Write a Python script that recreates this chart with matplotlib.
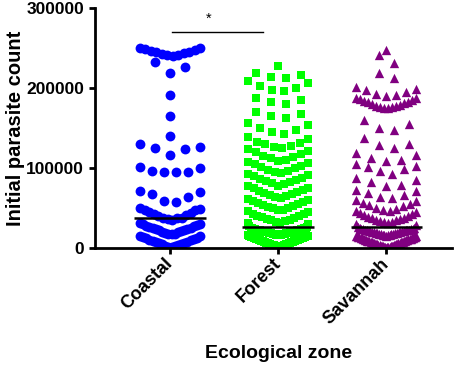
import matplotlib.pyplot as plt
import numpy as np

plt.rcParams['font.family'] = ['Liberation Sans', 'DejaVu Sans']
plt.rcParams['font.weight'] = 'bold'

zones = ['Coastal', 'Forest', 'Savannah']
colors = ['#0000ff', '#00ff00', '#800080']
markers = ['o', 's', '^']

# initial parasite counts (thousands)
coastal_k = [
    1.0, 1.5, 2.0, 3.0, 3.5, 4.5, 5.0, 6.0, 6.5, 7.5, 8.0, 9.0, 9.5, 10.5, 11.0, 12.0, 13.0, 13.5, 14.5, 15.5,
    17.0, 17.5, 18.0, 19.0, 19.5, 20.5, 21.0, 22.0, 22.5, 23.5, 24.0, 25.0, 25.5, 26.5, 27.5, 28.0, 29.0, 29.5, 30.5, 31.5,
    35.0, 36.0, 37.0, 37.5, 38.0, 39.5, 41.0, 42.5, 44.0, 45.5, 47.0, 48.0, 49.0, 49.5,
    57.0, 59.0, 64.0, 67.0, 70.0, 71.5,
    94.5, 95.0, 95.5, 96.0, 100.5, 101.5,
    116.0, 124.0, 125.0, 126.5, 130.5,
    140.0, 165.0, 191.0,
    219.0, 226.0, 232.0,
    240.5, 241.0, 241.5, 242.5, 243.5, 244.5, 245.5, 246.5, 247.5, 248.5, 249.5, 250.5,
]
forest_k = [
    1.0, 1.2, 1.5, 1.7, 2.0, 2.3, 2.5, 2.8, 3.0, 3.2, 3.5, 3.8, 4.0, 4.2, 4.5, 4.8, 5.0, 5.3, 5.5, 5.7,
    6.0, 6.2, 6.5, 6.8, 7.0, 7.3, 7.5, 7.8, 8.0, 8.2, 8.5, 8.8, 9.0, 9.3, 9.5, 9.8, 10.0, 10.3, 10.5, 10.8,
    11.0, 11.2, 11.5, 11.8, 12.0, 12.3, 12.5, 12.8, 13.0, 13.2, 13.5, 13.8, 14.0, 14.2, 14.5, 14.8, 15.0, 15.2, 15.5, 15.8,
    16.0, 16.2, 16.5, 16.6, 16.8, 17.0, 17.3, 17.4, 17.6, 17.8, 18.0, 18.3, 18.4, 18.6, 18.8, 19.0, 19.2, 19.5, 19.6, 19.8,
    20.0, 20.2, 20.4, 20.7, 20.8, 21.0, 21.2, 21.4, 21.6, 21.9, 22.1, 22.3, 22.5, 22.7, 22.9, 23.1, 23.3, 23.5, 23.7, 23.9,
    24.1, 24.3, 24.5, 24.7, 24.8, 24.9, 26.5, 28.0, 29.5, 30.8,
    31.5, 32.5, 33.5, 34.5, 35.5, 36.5, 37.5, 38.5, 39.5, 40.5, 42.0, 43.0, 44.5, 46.0,
    47.0, 48.0, 49.5, 50.5, 51.5, 53.0, 54.0, 55.5, 56.5, 58.0, 59.0, 60.0, 61.5,
    62.5, 63.5, 65.0, 66.5, 67.5, 69.0, 70.5, 71.5, 73.0, 74.5, 75.5, 77.0,
    78.0, 79.5, 81.0, 82.5, 84.0, 85.5, 86.5, 88.0, 89.5, 91.0, 92.5,
    93.5, 95.0, 96.5, 98.0, 99.5, 101.0, 102.5, 104.5, 106.0, 108.0,
    109.0, 110.5, 112.0, 114.0, 115.5, 117.5, 119.5, 121.5, 123.5,
    125.0, 126.5, 128.0, 129.5, 131.0, 133.0, 136.0, 139.0,
    143.0, 145.0, 147.0, 150.0, 154.0, 156.5,
    163.0, 165.0, 167.0, 169.5,
    180.0, 182.0, 184.5, 187.0,
    196.0, 198.0, 200.0, 203.0, 206.0, 209.0,
    212.0, 214.0, 216.0, 219.0,
    228.0,
]
savannah_k = [
    0.5, 0.7, 0.9, 1.2, 1.4, 1.6, 1.9, 2.1, 2.4, 2.6, 2.9, 3.1, 3.4, 3.6, 3.9, 4.2, 4.4, 4.7, 5.0, 5.2,
    5.5, 5.8, 6.0, 6.3, 6.6, 6.9, 7.1, 7.4, 7.7, 8.0, 8.2, 8.5, 8.8, 9.1, 9.3, 9.6, 9.9, 10.2, 10.4, 10.7,
    11.0, 11.3, 11.5, 11.8, 12.1, 12.4, 12.6, 12.9, 13.2, 13.5, 13.8, 14.1, 14.4, 14.8, 15.2,
    15.5, 15.8, 16.1, 16.5, 16.7, 17.0, 17.4, 17.6, 17.9, 18.2, 18.6, 18.8, 19.1, 19.4, 19.8, 20.0,
    20.3, 20.7, 20.9, 21.2, 21.5, 21.9, 22.1, 22.4, 22.8, 23.0, 23.3, 23.7, 23.9, 24.2, 24.5, 24.8,
    26.5, 28.5, 30.0,
    31.0, 32.0, 33.0, 33.8, 34.5, 35.5, 36.5, 37.2, 38.0, 39.0, 40.0, 41.0, 42.0, 43.2, 44.5, 45.8,
    46.5, 47.5, 49.0, 50.5, 52.0, 53.5, 55.0, 56.5, 58.5, 60.5,
    62.0, 64.0, 66.5, 69.0, 71.0, 73.0,
    77.5, 79.0, 82.0, 85.5, 88.0,
    93.0, 96.0, 99.0, 101.0, 103.0, 104.5,
    109.0, 110.5, 113.0, 116.0, 119.0,
    125.5, 129.0, 129.5, 137.5,
    148.0, 150.5, 155.0, 160.0,
    175.0, 175.5, 176.0, 176.5, 177.5, 178.0, 179.0, 180.0, 181.0, 182.0, 183.0, 184.0, 185.0, 186.0, 187.0, 188.0,
    190.5, 191.5, 193.0, 195.0, 197.0, 199.0, 201.0,
    212.5, 219.0,
    231.0, 241.0,
    247.5,
]


def swarm(values, row_h=15000, step_max=0.139, width_max=0.556):
    # Prism-like scatter: points within row_h share a row, lowest in the middle
    v = np.sort(np.asarray(values, dtype=float))
    offs = np.zeros(len(v))
    i = 0
    while i < len(v):
        j = i
        while j < len(v) and v[j] < v[i] + row_h:
            j += 1
        n = j - i
        step = step_max if n < 2 else min(step_max, width_max / (n - 1))
        slots = (np.arange(n) - (n - 1) / 2) * step
        slots = sorted(slots, key=lambda s: (round(abs(s), 9), -s))
        offs[i:j] = slots
        i = j
    return v, offs


fig = plt.figure(figsize=(4.59, 3.65), dpi=100)
ax = fig.add_axes([0.207, 0.3205, 0.778, 0.6575])

groups = [coastal_k, forest_k, savannah_k]
sizes = [50, 34, 45]
for i, vals in enumerate(groups):
    v, off = swarm(np.array(vals) * 1000)
    ax.scatter(i + off, v, s=sizes[i], c=colors[i], marker=markers[i], linewidths=0, zorder=2)
    ax.hlines(np.median(v), i - 0.33, i + 0.33, color='black', lw=1.8, zorder=3)

# significance bar Coastal vs Forest
ax.plot([0.02, 0.86], [270000, 270000], color='black', lw=1, clip_on=False)
ax.text(0.36, 281000, '*', ha='center', va='baseline', fontsize=10.5, fontweight='normal')

ax.set_xlim(-0.694, 2.61)
ax.set_ylim(0, 300000)
ax.set_yticks([0, 100000, 200000, 300000])
ax.set_yticklabels(['0', '100000', '200000', '300000'], fontsize=12.5, fontweight='bold')
ax.set_xticks(range(len(zones)))
ax.set_xticklabels(zones, rotation=45, ha='right', va='center', rotation_mode='anchor',
                   fontsize=13, fontweight='bold')

for side in ['top', 'right']:
    ax.spines[side].set_visible(False)
for side in ['left', 'bottom']:
    ax.spines[side].set_linewidth(2)
ax.tick_params(axis='both', width=2, length=4.5)
ax.tick_params(axis='x', pad=5)

ax.set_ylabel('Initial parasite count', fontsize=14.5, fontweight='bold')
ax.yaxis.set_label_coords(-0.196, 0.5)
ax.set_xlabel('Ecological zone', fontsize=14, fontweight='bold')
ax.xaxis.set_label_coords(0.513, -0.405)

plt.savefig('out.png', dpi=100)
